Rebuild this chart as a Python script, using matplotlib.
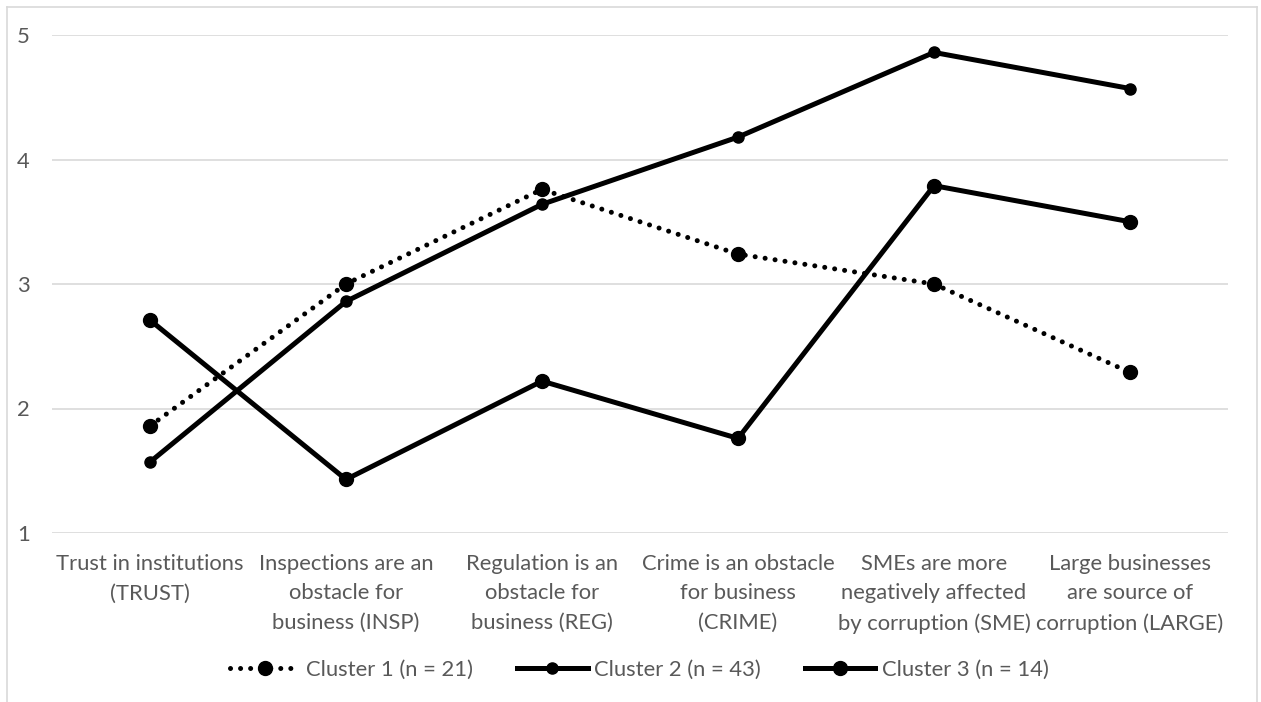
import matplotlib
matplotlib.use("Agg")
import matplotlib.pyplot as plt
from matplotlib.lines import Line2D

# --- Cluster means on each perception item (1-5 scale) ---
categories = [
    "Trust in institutions\n(TRUST)",
    "Inspections are an\nobstacle for\nbusiness (INSP)",
    "Regulation is an\nobstacle for\nbusiness (REG)",
    "Crime is an obstacle\nfor business\n(CRIME)",
    "SMEs are more\nnegatively affected\nby corruption (SME)",
    "Large businesses\nare source of\ncorruption (LARGE)",
]
cluster1 = [1.86, 3.00, 3.76, 3.24, 3.00, 2.29]
cluster2 = [1.57, 2.86, 3.64, 4.18, 4.86, 4.57]
cluster3 = [2.71, 1.43, 2.22, 1.76, 3.79, 3.50]
labels = ["Cluster 1 (n = 21)", "Cluster 2 (n = 43)", "Cluster 3 (n = 14)"]
yticks = [1, 2, 3, 4, 5]

plt.rcParams["font.family"] = ["Lato", "DejaVu Sans"]
TXT = "#595959"
GRID = "#D9D9D9"
FS = 15.8

W, H = 1261, 702
fig = plt.figure(figsize=(W / 100, H / 100), dpi=100)
ax = fig.add_axes([52 / W, 1 - 533 / H, 1176 / W, 498 / H])

x = list(range(len(categories)))
lw = 3.6
ax.plot(x, cluster1, color="black", lw=lw, linestyle=(0, (0.01, 2.0)),
        dash_capstyle="round", marker="o", markersize=10, label=labels[0])
ax.plot(x, cluster2, color="black", lw=lw, marker="o", markersize=8,
        label=labels[1])
ax.plot(x, cluster3, color="black", lw=lw, marker="o", markersize=10,
        label=labels[2])

ax.set_xlim(-0.5, len(categories) - 0.5)
ax.set_ylim(1, 5)
ax.set_yticks(yticks)
ax.set_xticks(x)
ax.set_xticklabels(categories, linespacing=1.6)
ax.tick_params(axis="both", length=0, labelsize=FS, colors=TXT)
ax.tick_params(axis="y", pad=16)
ax.tick_params(axis="x", pad=15)
ax.grid(axis="y", color=GRID, lw=1.2)
ax.set_axisbelow(True)
for s in ax.spines.values():
    s.set_visible(False)

leg = fig.legend(loc="center", bbox_to_anchor=(639 / W, 1 - 670 / H), ncol=3,
                 frameon=False, fontsize=FS, handlelength=3.2,
                 handletextpad=0.3, columnspacing=2.0)
for t in leg.get_texts():
    t.set_color(TXT)

# light chart-area frame (open at the bottom)
bx0, by0, bx1 = 7 / W, 1 - 7 / H, 1257 / W
for xs, ys in [([bx0, bx0], [0, by0]), ([bx0, bx1], [by0, by0]),
               ([bx1, bx1], [by0, 0])]:
    fig.add_artist(Line2D(xs, ys, color=GRID, lw=1.2, transform=fig.transFigure))

fig.savefig("out.png", dpi=100, facecolor="white")
